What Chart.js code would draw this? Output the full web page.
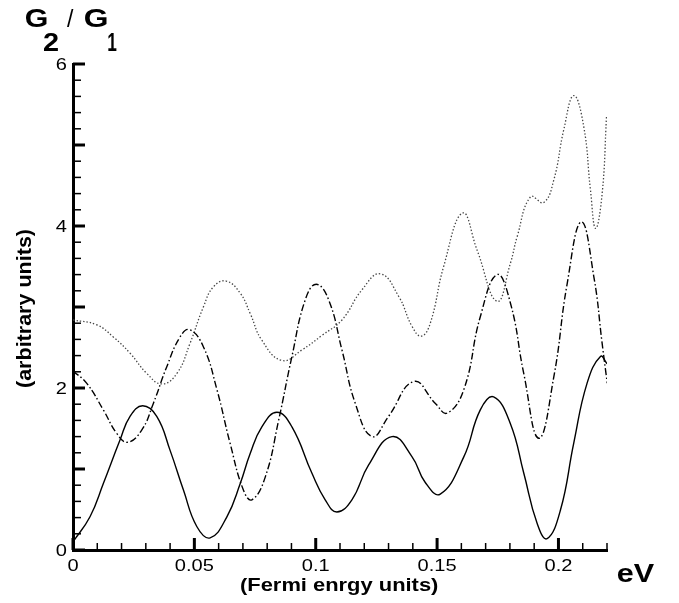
<!DOCTYPE html>
<html>
<head>
<meta charset="utf-8">
<script src="https://cdn.jsdelivr.net/npm/chart.js@4.4.0/dist/chart.umd.min.js"></script>
<style>
  html, body { margin: 0; padding: 0; background: #fff; }
  canvas { display: block; }
</style>
</head>
<body>
<canvas id="chart" width="679" height="603"></canvas>
<script>
// G2/G1 vs Fermi energy: three curves (solid, dash-dot, dotted)

// Solid curve
const solidX = [0, 0.007, 0.0125, 0.0194, 0.0235, 0.0287, 0.0345, 0.040, 0.0455, 0.051, 0.0565, 0.0634, 0.0689, 0.073,
    0.0778, 0.084, 0.0902, 0.0984, 0.1039, 0.1087, 0.1149, 0.1218, 0.1314, 0.1397, 0.145, 0.1513, 0.161, 0.1678,
    0.1733, 0.1802, 0.1857, 0.1912, 0.1953, 0.2008, 0.2063, 0.2118, 0.2173, 0.22];
const solidY = [0.10, 0.41, 0.82, 1.36, 1.65, 1.78, 1.65, 1.23, 0.74, 0.29, 0.15, 0.41, 0.82, 1.19,
    1.52, 1.70, 1.52, 0.95, 0.62, 0.47, 0.62, 1.05, 1.40, 1.15, 0.84, 0.69, 1.15, 1.73,
    1.89, 1.56, 0.95, 0.33, 0.14, 0.49, 1.32, 2.06, 2.39, 2.30];

// Dash-dot curve
const dashDotX = [0, 0.0056, 0.0125, 0.018, 0.0224, 0.0283, 0.0331, 0.0386, 0.0441, 0.048, 0.0537, 0.0593, 0.0647,
    0.0702, 0.0737, 0.0792, 0.0847, 0.0902, 0.0957, 0.1002, 0.1053, 0.1108, 0.1163, 0.1232, 0.130, 0.1404,
    0.1493, 0.1541, 0.161, 0.1678, 0.1747, 0.1802, 0.1857, 0.1919, 0.1981, 0.2036, 0.2094, 0.2146, 0.218, 0.2201];
const dashDotY = [2.21, 2.06, 1.73, 1.44, 1.33, 1.48, 1.81, 2.26, 2.63, 2.72, 2.51, 1.98, 1.32,
    0.74, 0.62, 0.90, 1.60, 2.39, 3.09, 3.28, 3.09, 2.47, 1.81, 1.40, 1.65, 2.08,
    1.81, 1.69, 1.98, 2.88, 3.40, 3.05, 2.18, 1.38, 2.14, 3.29, 4.05, 3.37, 2.55, 2.06];

// Dotted curve
const dottedX = [0, 0.0098, 0.0166, 0.0235, 0.0304, 0.0366, 0.0428, 0.0482, 0.0537, 0.0579, 0.0631, 0.0689, 0.073,
    0.0778, 0.0861, 0.0943, 0.1026, 0.1108, 0.119, 0.1266, 0.1342, 0.1397, 0.1435, 0.1472, 0.1527, 0.1605,
    0.1665, 0.1747, 0.1802, 0.183, 0.1885, 0.1939, 0.1981, 0.2022, 0.2063, 0.2104, 0.2132, 0.2153, 0.218, 0.2198];
const dottedY = [2.84, 2.78, 2.63, 2.43, 2.18, 2.05, 2.18, 2.55, 3.00, 3.25, 3.32, 3.17, 2.92,
    2.59, 2.34, 2.47, 2.65, 2.84, 3.21, 3.41, 3.13, 2.76, 2.64, 2.80, 3.50, 4.16,
    3.70, 3.07, 3.54, 3.87, 4.36, 4.29, 4.57, 5.19, 5.61, 5.23, 4.44, 3.97, 4.40, 5.35];

// Axes
const xTickValues = [0, 0.05, 0.1, 0.15, 0.2];
const xTickLabels = ['0', '0.05', '0.1', '0.15', '0.2'];
const yTickValues = [0, 2, 4, 6];
const yTickLabels = ['0', '2', '4', '6'];

function toPoints(xs, ys) {
    return xs.map((x, i) => ({ x: x, y: ys[i] }));
}

// Draw text stretched so its ink spans a given width
function fitInk(ctx, text, font, left, baseline, inkWidth) {
    ctx.font = font;
    ctx.textAlign = 'left';
    ctx.textBaseline = 'alphabetic';
    const m = ctx.measureText(text);
    const ink = m.actualBoundingBoxLeft + m.actualBoundingBoxRight;
    const s = inkWidth / ink;
    ctx.save();
    ctx.translate(left + m.actualBoundingBoxLeft * s, baseline);
    ctx.scale(s, 1);
    ctx.fillText(text, 0, 0);
    ctx.restore();
}

const FONT = '"Liberation Sans", Arial, Helvetica, sans-serif';
const STRETCH = 1.18; // labels in the reference are drawn a bit wide

// Inward tick marks, tick labels and titles
const axisDecor = {
    id: 'axisDecor',
    afterDatasetsDraw(chart) {
        const { ctx, chartArea: a, scales: { x, y } } = chart;
        ctx.save();
        ctx.strokeStyle = '#000';
        for (let i = 0; i <= 22; i++) {
            const px = x.getPixelForValue(i * 0.01);
            const major = i % 5 === 0;
            ctx.lineWidth = major ? 3 : 1.5;
            ctx.beginPath();
            ctx.moveTo(px, a.bottom);
            ctx.lineTo(px, a.bottom - (major ? 12 : 7));
            ctx.stroke();
        }
        for (let i = 0; i <= 30; i++) {
            const py = y.getPixelForValue(i * 0.2);
            const major = i % 5 === 0;
            ctx.lineWidth = major ? 3 : 1.5;
            ctx.beginPath();
            ctx.moveTo(a.left, py);
            ctx.lineTo(a.left + (major ? 12 : 8), py);
            ctx.stroke();
        }
        ctx.restore();
    },
    afterDraw(chart) {
        const { ctx, chartArea: a, scales: { x, y } } = chart;
        ctx.save();
        ctx.fillStyle = '#000';
        ctx.font = '17px ' + FONT;
        ctx.textBaseline = 'alphabetic';

        // x tick labels, centred under ticks
        x.ticks.forEach((t, i) => {
            const px = x.getPixelForValue(t.value);
            ctx.save();
            ctx.translate(px, a.bottom + 21);
            ctx.scale(STRETCH, 1);
            ctx.textAlign = 'center';
            ctx.fillText(xTickLabels[i], 0, 0);
            ctx.restore();
        });
        // y tick labels, right aligned
        y.ticks.forEach((t, i) => {
            const py = y.getPixelForValue(t.value);
            ctx.save();
            ctx.translate(a.left - 6, py + 6);
            ctx.scale(STRETCH, 1);
            ctx.textAlign = 'right';
            ctx.fillText(yTickLabels[i], 0, 0);
            ctx.restore();
        });

        // Title G2 / G1
        fitInk(ctx, 'G', 'bold 26px ' + FONT, 26, 27, 21);
        fitInk(ctx, '2', 'bold 25px ' + FONT, 43, 51, 15);
        fitInk(ctx, '/', '23px ' + FONT, 67, 27, 7);
        fitInk(ctx, 'G', 'bold 26px ' + FONT, 85, 27, 22);
        fitInk(ctx, '1', 'bold 25px ' + FONT, 108, 51, 9);

        // Axis titles
        fitInk(ctx, '(Fermi enrgy units)', 'bold 19px ' + FONT, 240, 591, 198);
        fitInk(ctx, 'eV', 'bold 26px ' + FONT, 618, 582, 37);

        ctx.save();
        ctx.translate(31, 387);
        ctx.rotate(-Math.PI / 2);
        fitInk(ctx, '(arbitrary units)', 'bold 21px ' + FONT, 0, 0, 157);
        ctx.restore();

        ctx.restore();
    }
};

const lineBase = {
    borderColor: '#000',
    borderWidth: 1.4,
    pointRadius: 0,
    fill: false,
    tension: 0.45
};

new Chart(document.getElementById('chart'), {
    type: 'line',
    data: {
        datasets: [
            Object.assign({}, lineBase, { label: 'solid', data: toPoints(solidX, solidY) }),
            Object.assign({}, lineBase, { label: 'dash-dot', data: toPoints(dashDotX, dashDotY), borderDash: [7, 2.5, 1.5, 2.5] }),
            Object.assign({}, lineBase, { label: 'dotted', data: toPoints(dottedX, dottedY), borderColor: '#444', borderWidth: 1.3, borderDash: [1.4, 2] })
        ]
    },
    options: {
        responsive: false,
        animation: false,
        layout: { padding: { top: 64, right: 72, left: 0, bottom: 0 } },
        plugins: { legend: { display: false }, tooltip: { enabled: false } },
        scales: {
            x: {
                type: 'linear',
                min: 0,
                max: 0.22,
                afterBuildTicks: s => { s.ticks = xTickValues.map(v => ({ value: v })); },
                afterFit: s => { s.height = 53; },
                ticks: { display: false },
                grid: { display: false, drawTicks: false },
                border: { display: true, width: 3, color: '#000' }
            },
            y: {
                type: 'linear',
                min: 0,
                max: 6,
                afterBuildTicks: s => { s.ticks = yTickValues.map(v => ({ value: v })); },
                afterFit: s => { s.width = 73; },
                ticks: { display: false },
                grid: { display: false, drawTicks: false },
                border: { display: true, width: 3, color: '#000' }
            }
        }
    },
    plugins: [axisDecor]
});
</script>
</body>
</html>
